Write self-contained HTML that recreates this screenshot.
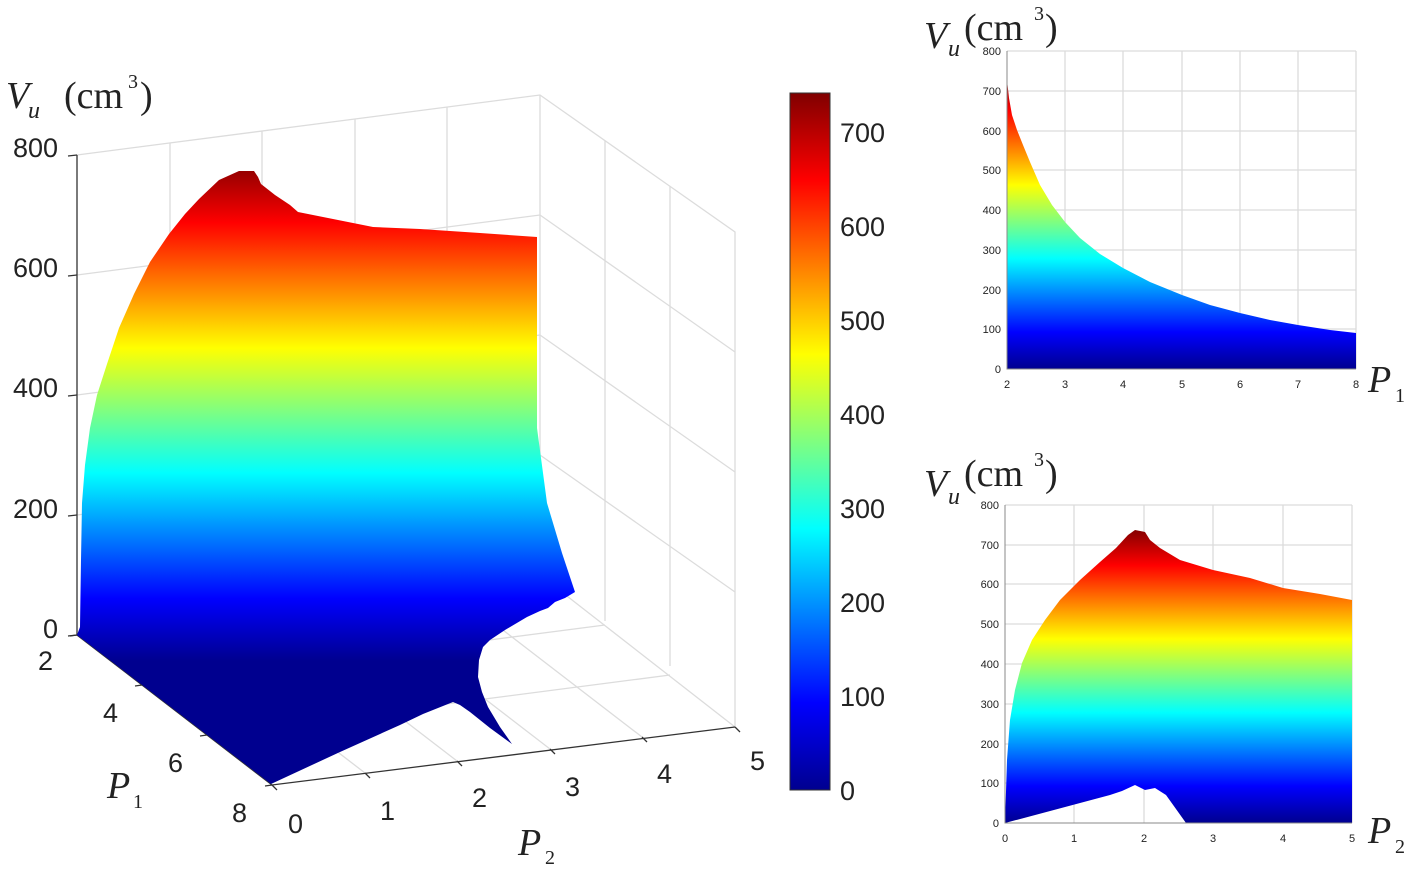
<!DOCTYPE html>
<html><head><meta charset="utf-8"><style>
body{margin:0;background:#fff;}
svg{display:block}
.t{font-family:"Liberation Sans",Arial,sans-serif;fill:#222}
.s{font-family:"Liberation Serif",serif;fill:#222}
.g{stroke:#dcdcdc;stroke-width:1.3;fill:none}
</style></head><body>
<svg width="1416" height="869" viewBox="0 0 1416 869" xmlns="http://www.w3.org/2000/svg">
<defs>
<linearGradient id="jet3" gradientUnits="userSpaceOnUse" x1="0" y1="661" x2="0" y2="160">
<stop offset="0" stop-color="#00008f"/><stop offset="0.125" stop-color="#0000ff"/><stop offset="0.375" stop-color="#00ffff"/><stop offset="0.625" stop-color="#ffff00"/><stop offset="0.875" stop-color="#ff0000"/><stop offset="1" stop-color="#800000"/>
</linearGradient>
<linearGradient id="jetc" gradientUnits="userSpaceOnUse" x1="0" y1="790" x2="0" y2="93">
<stop offset="0" stop-color="#00008f"/><stop offset="0.125" stop-color="#0000ff"/><stop offset="0.375" stop-color="#00ffff"/><stop offset="0.625" stop-color="#ffff00"/><stop offset="0.875" stop-color="#ff0000"/><stop offset="1" stop-color="#800000"/>
</linearGradient>
<linearGradient id="jet1" gradientUnits="userSpaceOnUse" x1="0" y1="369" x2="0" y2="74.5">
<stop offset="0" stop-color="#00008f"/><stop offset="0.125" stop-color="#0000ff"/><stop offset="0.375" stop-color="#00ffff"/><stop offset="0.625" stop-color="#ffff00"/><stop offset="0.875" stop-color="#ff0000"/><stop offset="1" stop-color="#800000"/>
</linearGradient>
<linearGradient id="jet2" gradientUnits="userSpaceOnUse" x1="0" y1="823" x2="0" y2="528.5">
<stop offset="0" stop-color="#00008f"/><stop offset="0.125" stop-color="#0000ff"/><stop offset="0.375" stop-color="#00ffff"/><stop offset="0.625" stop-color="#ffff00"/><stop offset="0.875" stop-color="#ff0000"/><stop offset="1" stop-color="#800000"/>
</linearGradient>
</defs>

<g class="g">
<path d="M77,155 L540,95 L735,232 L735,727"/>
<path d="M170,143 L170,623 M262,131 L262,611 M355,119 L355,599 M447,107 L447,587 M540,95 L540,575"/>
<path d="M77,275 L540,215 L735,352 M77,395 L540,335 L735,472 M77,515 L540,455 L735,592 M77,635 L540,575 L735,727"/>
<path d="M605,141 L605,621 M670,186 L670,666"/>
<path d="M142,685 L605,625 M207,735 L670,675"/>
<path d="M170,623 L365,773 M262,611 L457,761 M355,599 L550,749 M447,587 L642,737"/>
</g>
<g stroke="#333" stroke-width="1.3" fill="none">
<path d="M77,155 L77,635 L272,785 L735,727"/>
<path d="M77,155 L68,156 M77,275 L68,276 M77,395 L68,396 M77,515 L68,516 M77,635 L68,636"/>
<path d="M77,635 L70,636 M142,685 L135,686 M207,735 L200,736 M272,785 L265,786"/>
<path d="M272,785 L277,790 M365,773 L370,778 M457,761 L462,766 M550,749 L555,754 M642,737 L647,742 M735,727 L740,732"/>
</g>
<path fill="url(#jet3)" d="M77,635 L80,627 L81,560 L82,503 L85,465 L90,428 L97,395 L107,364 L119,328 L134,294 L150,262 L169,234 L185,214 L199,199 L219,180 L239,171 L254,171 L258,177 L261,184 L275,195 L290,205 L298,212 L323,217 L373,227 L420,229 L480,233 L537,237 L537,428 L547,503 L562,553 L575,592 L565,598 L555,602 L548,608 L540,611 L527,617 L505,630 L490,640 L483,647 L479,660 L478,677 L482,692 L488,707 L500,727 L512,744 L490,728 L470,712 L460,705 L453,702 L438,708 L423,714 L400,725 L340,752 L271,784 Z"/>

<text class="t" font-size="27" text-anchor="end" x="58" y="157">800</text>
<text class="t" font-size="27" text-anchor="end" x="58" y="277">600</text>
<text class="t" font-size="27" text-anchor="end" x="58" y="397">400</text>
<text class="t" font-size="27" text-anchor="end" x="58" y="518">200</text>
<text class="t" font-size="27" text-anchor="end" x="58" y="638">0</text>
<text class="t" font-size="27" x="38" y="670">2</text>
<text class="t" font-size="27" x="103" y="722">4</text>
<text class="t" font-size="27" x="168" y="772">6</text>
<text class="t" font-size="27" x="232" y="822">8</text>
<text class="t" font-size="27" x="288" y="833">0</text>
<text class="t" font-size="27" x="380" y="820">1</text>
<text class="t" font-size="27" x="472" y="807">2</text>
<text class="t" font-size="27" x="565" y="796">3</text>
<text class="t" font-size="27" x="657" y="783">4</text>
<text class="t" font-size="27" x="750" y="770">5</text>
<text class="s" font-size="38" font-style="italic" x="107" y="798">P</text><text class="s" font-size="20" x="133" y="808">1</text>
<text class="s" font-size="38" font-style="italic" x="518" y="855">P</text><text class="s" font-size="20" x="545" y="864">2</text>
<text class="s" font-size="38" font-style="italic" x="6" y="108">V</text><text class="s" font-size="24" font-style="italic" x="28" y="118">u</text>
<text class="s" font-size="38" x="64" y="108">(cm</text><text class="s" font-size="20" x="128" y="88">3</text><text class="s" font-size="38" x="140" y="108">)</text>

<rect x="790" y="93" width="40" height="697" fill="url(#jetc)" stroke="#333" stroke-width="1"/>
<g class="t" font-size="27">
<text x="840" y="142">700</text><text x="840" y="236">600</text><text x="840" y="330">500</text><text x="840" y="424">400</text><text x="840" y="518">300</text><text x="840" y="612">200</text><text x="840" y="706">100</text><text x="840" y="800">0</text>
</g>

<g class="g" stroke="#eaeaea">
<path d="M1065,51 V369 M1123,51 V369 M1182,51 V369 M1240,51 V369 M1298,51 V369 M1356,51 V369"/>
<path d="M1007,91 H1356 M1007,131 H1356 M1007,170 H1356 M1007,210 H1356 M1007,250 H1356 M1007,290 H1356 M1007,329 H1356 M1007,51 H1356"/>
</g>
<path fill="url(#jet1)" d="M1007,369 L1007,80 L1009,98 L1012,115 L1017,130 L1023,145 L1030,162 L1040,185 L1052,205 L1065,222 L1080,238 L1100,254 L1123,268 L1150,282 L1182,295 L1210,305 L1240,313 L1270,320 L1298,325 L1330,330 L1356,333 L1356,369 Z"/>
<path d="M1007,51 V369 H1356" stroke="#888" fill="none"/>
<g class="t" font-size="11" fill="#555" text-anchor="end">
<text x="1001" y="55">800</text><text x="1001" y="95">700</text><text x="1001" y="135">600</text><text x="1001" y="174">500</text><text x="1001" y="214">400</text><text x="1001" y="254">300</text><text x="1001" y="294">200</text><text x="1001" y="333">100</text><text x="1001" y="373">0</text>
</g>
<g class="t" font-size="11" fill="#555" text-anchor="middle">
<text x="1007" y="388">2</text><text x="1065" y="388">3</text><text x="1123" y="388">4</text><text x="1182" y="388">5</text><text x="1240" y="388">6</text><text x="1298" y="388">7</text><text x="1356" y="388">8</text>
</g>
<text class="s" font-size="38" font-style="italic" x="924" y="48">V</text><text class="s" font-size="24" font-style="italic" x="948" y="56">u</text>
<text class="s" font-size="38" x="964" y="40">(cm</text><text class="s" font-size="20" x="1034" y="20">3</text><text class="s" font-size="38" x="1045" y="40">)</text>
<text class="s" font-size="38" font-style="italic" x="1368" y="392">P</text><text class="s" font-size="20" x="1395" y="402">1</text>

<g class="g" stroke="#eaeaea">
<path d="M1074,505 V823 M1144,505 V823 M1213,505 V823 M1283,505 V823 M1352,505 V823"/>
<path d="M1005,505 H1352 M1005,545 H1352 M1005,584 H1352 M1005,624 H1352 M1005,664 H1352 M1005,704 H1352 M1005,744 H1352 M1005,783 H1352"/>
</g>
<path fill="url(#jet2)" d="M1005,823 L1007,760 L1010,720 L1015,690 L1022,663 L1032,640 L1045,620 L1060,600 L1080,580 L1100,562 L1116,548 L1128,535 L1135,530 L1145,532 L1150,540 L1160,548 L1180,560 L1213,570 L1250,578 L1283,588 L1320,594 L1352,600 L1352,823 L1186,823 L1166,795 L1155,788 L1145,790 L1135,785 L1122,791 L1110,795 Z"/>
<path d="M1005,505 V823 H1352" stroke="#888" fill="none"/>
<g class="t" font-size="11" fill="#555" text-anchor="end">
<text x="999" y="509">800</text><text x="999" y="549">700</text><text x="999" y="588">600</text><text x="999" y="628">500</text><text x="999" y="668">400</text><text x="999" y="708">300</text><text x="999" y="748">200</text><text x="999" y="787">100</text><text x="999" y="827">0</text>
</g>
<g class="t" font-size="11" fill="#555" text-anchor="middle">
<text x="1005" y="842">0</text><text x="1074" y="842">1</text><text x="1144" y="842">2</text><text x="1213" y="842">3</text><text x="1283" y="842">4</text><text x="1352" y="842">5</text>
</g>
<text class="s" font-size="38" font-style="italic" x="924" y="496">V</text><text class="s" font-size="24" font-style="italic" x="948" y="504">u</text>
<text class="s" font-size="38" x="964" y="486">(cm</text><text class="s" font-size="20" x="1034" y="466">3</text><text class="s" font-size="38" x="1045" y="486">)</text>
<text class="s" font-size="38" font-style="italic" x="1368" y="843">P</text><text class="s" font-size="20" x="1395" y="853">2</text>
</svg>
</body></html>
